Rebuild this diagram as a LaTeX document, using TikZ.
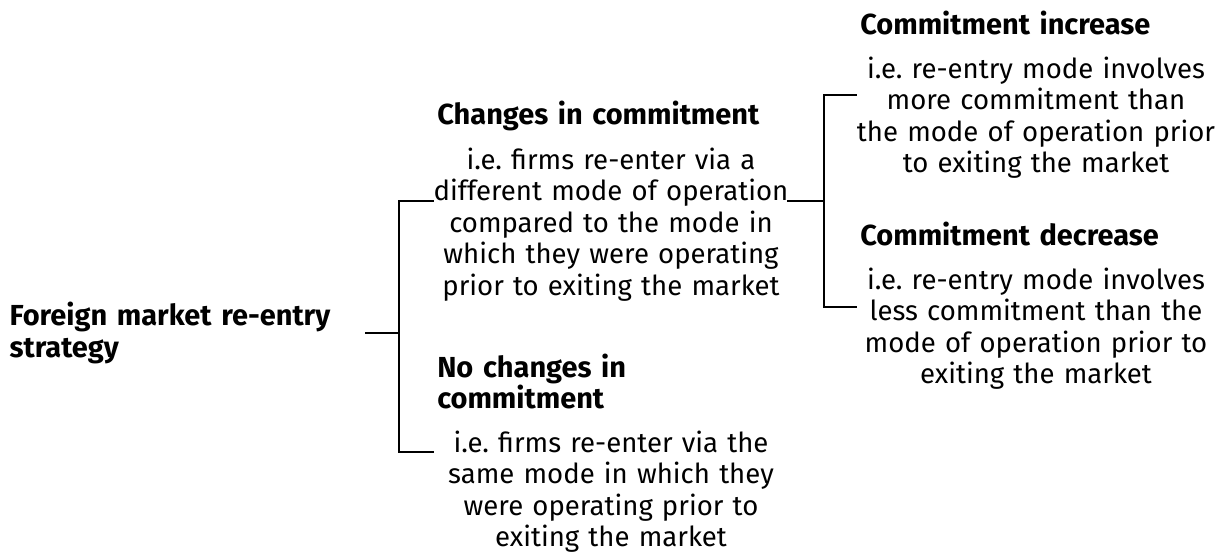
\documentclass[tikz,border=0pt]{standalone}
\usepackage{fontspec}
\setmainfont{Fira Sans}
\newcommand{\boxfont}{\fontsize{20.6pt}{22.4pt}\selectfont\frenchspacing}
\newcommand{\txtfont}{\fontsize{19.6pt}{22.4pt}\selectfont\frenchspacing\spaceskip=0.2em plus 0.05em}
\begin{document}
\begin{tikzpicture}[x=0.025cm,y=-0.025cm]
	\tikzstyle{head} = [anchor=base west,inner sep=0pt,text width=10cm,align=left,font=\boxfont\bfseries]
	\tikzstyle{body} = [anchor=base,inner sep=0pt,text width=10cm,align=center,font=\txtfont]
	\tikzstyle{edge} = [-,line width=1pt]
	\useasboundingbox (0,0) rectangle (1222,554);
	% root
	\node[head,anchor=east,text width=8.875cm] (n0) at (365,333) {Foreign market re-entry\\strategy};
	% first level
	\node[head] (n1) at (437,124) {Changes in commitment};
	\node[body] (n1t) at (611,169) {i.e. firms re-enter via a\\different mode of operation\\compared to the mode in\\which they were operating\\prior to exiting the market};
	\node[head] (n2) at (437,377) {No changes in\\commitment};
	\node[body] (n2t) at (611,452) {i.e. firms re-enter via the\\same mode in which they\\were operating prior to\\exiting the market};
	% second level
	\node[head] (n3) at (860,34) {Commitment increase};
	\node[body] (n3t) at (1036,78) {i.e. re-entry mode involves\\more commitment than\\the mode of operation prior\\to exiting the market};
	\node[head] (n4) at (860,245) {Commitment decrease};
	\node[body] (n4t) at (1036,289) {i.e. re-entry mode involves\\less commitment than the\\mode of operation prior to\\exiting the market};
	% connector ends
	\coordinate (c0) at ([xshift=0.85cm]n0.east);
	\coordinate (c1) at ([xshift=-4.425cm,yshift=-0.8cm]n1t.base);
	\coordinate (c2) at ([xshift=4.4cm,yshift=-0.8cm]n1t.base);
	\coordinate (c3) at ([xshift=0.925cm]c2);
	\coordinate (c4) at ([xshift=-4.475cm,yshift=-0.425cm]n3t.base);
	\coordinate (c5) at ([xshift=-4.475cm,yshift=-0.45cm]n4t.base);
	\coordinate (c6) at ([xshift=-4.425cm]n2t.base);
	
	\draw[edge] (n0.east)--(c0);
	\draw[edge] (c0) |- (c1);
	\draw[edge] (c0) |- (c6);
	\draw[edge] (c2)--(c3);
	\draw[edge] (c3) |- (c4);
	\draw[edge] (c3) |- (c5);
\end{tikzpicture}
\end{document}
